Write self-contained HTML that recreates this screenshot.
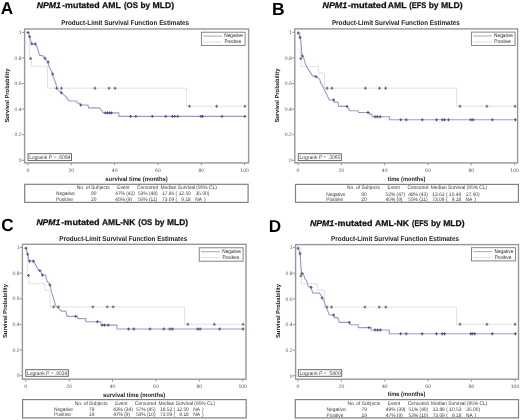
<!DOCTYPE html>
<html><head><meta charset="utf-8"><title>NPM1-mutated AML survival</title>
<style>
html,body{margin:0;padding:0;background:#fff;}
body{width:520px;height:420px;overflow:hidden;}
svg{display:block;font-family:"Liberation Sans", sans-serif;will-change:transform;text-rendering:geometricPrecision;}
</style></head>
<body>
<svg width="520" height="420" viewBox="0 0 520 420">
<rect width="520" height="420" fill="#fff"/>
<text x="0.7" y="14.0" font-size="17.2" font-weight="bold" text-anchor="start" fill="#000" textLength="12.4" lengthAdjust="spacingAndGlyphs">A</text>
<text x="36.70" y="7.9" font-size="8.3" font-weight="bold" fill="#111" font-style="italic" stroke="#111" stroke-width="0.25" textLength="24.30" lengthAdjust="spacingAndGlyphs">NPM1</text>
<text x="62.00" y="7.9" font-size="8.3" font-weight="bold" fill="#111" stroke="#111" stroke-width="0.25" textLength="2.90" lengthAdjust="spacingAndGlyphs">-</text>
<text x="65.10" y="7.9" font-size="8.3" font-weight="bold" fill="#111" stroke="#111" stroke-width="0.25" textLength="34.50" lengthAdjust="spacingAndGlyphs">mutated</text>
<text x="101.90" y="7.9" font-size="8.3" font-weight="bold" fill="#111" stroke="#111" stroke-width="0.25" textLength="18.80" lengthAdjust="spacingAndGlyphs">AML</text>
<text x="124.00" y="7.9" font-size="8.3" font-weight="bold" fill="#111" stroke="#111" stroke-width="0.25" textLength="14.00" lengthAdjust="spacingAndGlyphs">(OS</text>
<text x="140.50" y="7.9" font-size="8.3" font-weight="bold" fill="#111" stroke="#111" stroke-width="0.25" textLength="9.70" lengthAdjust="spacingAndGlyphs">by</text>
<text x="152.60" y="7.9" font-size="8.3" font-weight="bold" fill="#111" stroke="#111" stroke-width="0.25" textLength="21.60" lengthAdjust="spacingAndGlyphs">MLD)</text>
<text x="61.2" y="25.2" font-size="6.9" font-weight="bold" text-anchor="start" fill="#222" textLength="127.9" lengthAdjust="spacingAndGlyphs">Product-Limit Survival Function Estimates</text>
<text x="0" y="0" font-size="5.8" font-weight="bold" fill="#1a1a1a" text-anchor="middle" textLength="54" lengthAdjust="spacingAndGlyphs" transform="translate(8.6,95.6) rotate(-90)">Survival Probability</text>
<line x1="22.0" y1="160.3" x2="24.6" y2="160.3" stroke="#777" stroke-width="0.8"/>
<text x="21.700000000000003" y="162.0" font-size="5.1" font-weight="normal" text-anchor="end" fill="#5a5a5a">0</text>
<line x1="22.0" y1="134.70000000000002" x2="24.6" y2="134.70000000000002" stroke="#777" stroke-width="0.8"/>
<text x="21.700000000000003" y="136.4" font-size="5.1" font-weight="normal" text-anchor="end" fill="#5a5a5a">0.2</text>
<line x1="22.0" y1="109.10000000000001" x2="24.6" y2="109.10000000000001" stroke="#777" stroke-width="0.8"/>
<text x="21.700000000000003" y="110.80000000000001" font-size="5.1" font-weight="normal" text-anchor="end" fill="#5a5a5a">0.4</text>
<line x1="22.0" y1="83.5" x2="24.6" y2="83.5" stroke="#777" stroke-width="0.8"/>
<text x="21.700000000000003" y="85.2" font-size="5.1" font-weight="normal" text-anchor="end" fill="#5a5a5a">0.6</text>
<line x1="22.0" y1="57.900000000000006" x2="24.6" y2="57.900000000000006" stroke="#777" stroke-width="0.8"/>
<text x="21.700000000000003" y="59.60000000000001" font-size="5.1" font-weight="normal" text-anchor="end" fill="#5a5a5a">0.8</text>
<line x1="22.0" y1="32.30000000000001" x2="24.6" y2="32.30000000000001" stroke="#777" stroke-width="0.8"/>
<text x="21.700000000000003" y="34.000000000000014" font-size="5.1" font-weight="normal" text-anchor="end" fill="#5a5a5a">1</text>
<line x1="28.0" y1="162.9" x2="28.0" y2="165.3" stroke="#777" stroke-width="0.8"/>
<text x="28.0" y="171.8" font-size="5.1" font-weight="normal" text-anchor="middle" fill="#5a5a5a">0</text>
<line x1="71.32" y1="162.9" x2="71.32" y2="165.3" stroke="#777" stroke-width="0.8"/>
<text x="71.32" y="171.8" font-size="5.1" font-weight="normal" text-anchor="middle" fill="#5a5a5a">20</text>
<line x1="114.64" y1="162.9" x2="114.64" y2="165.3" stroke="#777" stroke-width="0.8"/>
<text x="114.64" y="171.8" font-size="5.1" font-weight="normal" text-anchor="middle" fill="#5a5a5a">40</text>
<line x1="157.96" y1="162.9" x2="157.96" y2="165.3" stroke="#777" stroke-width="0.8"/>
<text x="157.96" y="171.8" font-size="5.1" font-weight="normal" text-anchor="middle" fill="#5a5a5a">60</text>
<line x1="201.28" y1="162.9" x2="201.28" y2="165.3" stroke="#777" stroke-width="0.8"/>
<text x="201.28" y="171.8" font-size="5.1" font-weight="normal" text-anchor="middle" fill="#5a5a5a">80</text>
<line x1="244.6" y1="162.9" x2="244.6" y2="165.3" stroke="#777" stroke-width="0.8"/>
<text x="244.6" y="171.8" font-size="5.1" font-weight="normal" text-anchor="middle" fill="#5a5a5a">100</text>
<text x="105.3" y="181.0" font-size="6.2" font-weight="bold" text-anchor="start" fill="#222" textLength="62.5" lengthAdjust="spacingAndGlyphs">survival time (months)</text>
<polyline points="28.0,32.3 29.3,32.3 29.3,58.0 31.6,58.0 31.6,66.3 47.5,66.3 47.5,88.2 186.4,88.2 186.4,106.2 245.0,106.2 245.0,106.2" fill="none" stroke="#d9d9d6" stroke-width="0.8" stroke-linejoin="miter"/>
<polyline points="28.0,32.3 28.7,34.0 29.6,36.6 30.4,40.0 31.3,43.0 32.6,44.2 35.1,44.0 36.4,45.1 37.7,48.6 38.6,52.0 39.4,55.0 40.7,55.4 42.5,55.6 45.0,58.3 47.5,61.7 49.2,66.7 51.7,71.7 53.3,76.7 55.8,83.3 56.7,87.5 59.2,90.8 62.5,93.7 65.8,96.7 68.3,100.0 69.5,101.0 76.4,101.0 77.1,102.9 79.5,103.5 80.8,105.0 87.9,105.0 88.6,107.9 99.3,107.9 101.4,110.0 103.0,112.9 118.9,112.9 118.9,116.4 245.0,116.4" fill="none" stroke="#9a9ad0" stroke-width="1.1" stroke-linejoin="miter"/>
<line x1="30.6" y1="57.15" x2="30.6" y2="60.050000000000004" stroke="#666666" stroke-width="1.1"/>
<line x1="29.200000000000003" y1="58.6" x2="32.0" y2="58.6" stroke="#666666" stroke-width="1.0"/>
<line x1="56.6" y1="86.75" x2="56.6" y2="89.65" stroke="#666666" stroke-width="1.1"/>
<line x1="55.2" y1="88.2" x2="58.0" y2="88.2" stroke="#666666" stroke-width="1.0"/>
<line x1="61.4" y1="86.75" x2="61.4" y2="89.65" stroke="#666666" stroke-width="1.1"/>
<line x1="60.0" y1="88.2" x2="62.8" y2="88.2" stroke="#666666" stroke-width="1.0"/>
<line x1="95" y1="86.75" x2="95" y2="89.65" stroke="#666666" stroke-width="1.1"/>
<line x1="93.6" y1="88.2" x2="96.4" y2="88.2" stroke="#666666" stroke-width="1.0"/>
<line x1="109" y1="86.75" x2="109" y2="89.65" stroke="#666666" stroke-width="1.1"/>
<line x1="107.6" y1="88.2" x2="110.4" y2="88.2" stroke="#666666" stroke-width="1.0"/>
<line x1="115.1" y1="86.75" x2="115.1" y2="89.65" stroke="#666666" stroke-width="1.1"/>
<line x1="113.69999999999999" y1="88.2" x2="116.5" y2="88.2" stroke="#666666" stroke-width="1.0"/>
<line x1="189.5" y1="104.75" x2="189.5" y2="107.65" stroke="#666666" stroke-width="1.1"/>
<line x1="188.1" y1="106.2" x2="190.9" y2="106.2" stroke="#666666" stroke-width="1.0"/>
<line x1="216.6" y1="104.75" x2="216.6" y2="107.65" stroke="#666666" stroke-width="1.1"/>
<line x1="215.2" y1="106.2" x2="218.0" y2="106.2" stroke="#666666" stroke-width="1.0"/>
<line x1="244.9" y1="104.75" x2="244.9" y2="107.65" stroke="#666666" stroke-width="1.1"/>
<line x1="243.5" y1="106.2" x2="246.3" y2="106.2" stroke="#666666" stroke-width="1.0"/>
<line x1="105.4" y1="111.45" x2="105.4" y2="114.35000000000001" stroke="#505088" stroke-width="1.1"/>
<line x1="104.0" y1="112.9" x2="106.80000000000001" y2="112.9" stroke="#505088" stroke-width="1.0"/>
<line x1="107.4" y1="111.45" x2="107.4" y2="114.35000000000001" stroke="#505088" stroke-width="1.1"/>
<line x1="106.0" y1="112.9" x2="108.80000000000001" y2="112.9" stroke="#505088" stroke-width="1.0"/>
<line x1="109.5" y1="111.45" x2="109.5" y2="114.35000000000001" stroke="#505088" stroke-width="1.1"/>
<line x1="108.1" y1="112.9" x2="110.9" y2="112.9" stroke="#505088" stroke-width="1.0"/>
<line x1="111.5" y1="111.45" x2="111.5" y2="114.35000000000001" stroke="#505088" stroke-width="1.1"/>
<line x1="110.1" y1="112.9" x2="112.9" y2="112.9" stroke="#505088" stroke-width="1.0"/>
<line x1="130.5" y1="114.95" x2="130.5" y2="117.85000000000001" stroke="#505088" stroke-width="1.1"/>
<line x1="129.1" y1="116.4" x2="131.9" y2="116.4" stroke="#505088" stroke-width="1.0"/>
<line x1="135.8" y1="114.95" x2="135.8" y2="117.85000000000001" stroke="#505088" stroke-width="1.1"/>
<line x1="134.4" y1="116.4" x2="137.20000000000002" y2="116.4" stroke="#505088" stroke-width="1.0"/>
<line x1="152.3" y1="114.95" x2="152.3" y2="117.85000000000001" stroke="#505088" stroke-width="1.1"/>
<line x1="150.9" y1="116.4" x2="153.70000000000002" y2="116.4" stroke="#505088" stroke-width="1.0"/>
<line x1="165.8" y1="114.95" x2="165.8" y2="117.85000000000001" stroke="#505088" stroke-width="1.1"/>
<line x1="164.4" y1="116.4" x2="167.20000000000002" y2="116.4" stroke="#505088" stroke-width="1.0"/>
<line x1="172.3" y1="114.95" x2="172.3" y2="117.85000000000001" stroke="#505088" stroke-width="1.1"/>
<line x1="170.9" y1="116.4" x2="173.70000000000002" y2="116.4" stroke="#505088" stroke-width="1.0"/>
<line x1="174.6" y1="114.95" x2="174.6" y2="117.85000000000001" stroke="#505088" stroke-width="1.1"/>
<line x1="173.2" y1="116.4" x2="176.0" y2="116.4" stroke="#505088" stroke-width="1.0"/>
<line x1="177.7" y1="114.95" x2="177.7" y2="117.85000000000001" stroke="#505088" stroke-width="1.1"/>
<line x1="176.29999999999998" y1="116.4" x2="179.1" y2="116.4" stroke="#505088" stroke-width="1.0"/>
<line x1="200.8" y1="114.95" x2="200.8" y2="117.85000000000001" stroke="#505088" stroke-width="1.1"/>
<line x1="199.4" y1="116.4" x2="202.20000000000002" y2="116.4" stroke="#505088" stroke-width="1.0"/>
<line x1="202.5" y1="114.95" x2="202.5" y2="117.85000000000001" stroke="#505088" stroke-width="1.1"/>
<line x1="201.1" y1="116.4" x2="203.9" y2="116.4" stroke="#505088" stroke-width="1.0"/>
<line x1="222" y1="114.95" x2="222" y2="117.85000000000001" stroke="#505088" stroke-width="1.1"/>
<line x1="220.6" y1="116.4" x2="223.4" y2="116.4" stroke="#505088" stroke-width="1.0"/>
<line x1="244.9" y1="114.95" x2="244.9" y2="117.85000000000001" stroke="#505088" stroke-width="1.1"/>
<line x1="243.5" y1="116.4" x2="246.3" y2="116.4" stroke="#505088" stroke-width="1.0"/>
<line x1="28.0" y1="31.05" x2="28.0" y2="33.95" stroke="#505088" stroke-width="1.1"/>
<line x1="26.6" y1="32.5" x2="29.4" y2="32.5" stroke="#505088" stroke-width="1.0"/>
<line x1="29.6" y1="35.15" x2="29.6" y2="38.050000000000004" stroke="#505088" stroke-width="1.1"/>
<line x1="28.200000000000003" y1="36.6" x2="31.0" y2="36.6" stroke="#505088" stroke-width="1.0"/>
<line x1="31.8" y1="42.349999999999994" x2="31.8" y2="45.25" stroke="#505088" stroke-width="1.1"/>
<line x1="30.400000000000002" y1="43.8" x2="33.2" y2="43.8" stroke="#505088" stroke-width="1.0"/>
<line x1="35.3" y1="42.55" x2="35.3" y2="45.45" stroke="#505088" stroke-width="1.1"/>
<line x1="33.9" y1="44.0" x2="36.699999999999996" y2="44.0" stroke="#505088" stroke-width="1.0"/>
<line x1="45.0" y1="56.849999999999994" x2="45.0" y2="59.75" stroke="#505088" stroke-width="1.1"/>
<line x1="43.6" y1="58.3" x2="46.4" y2="58.3" stroke="#505088" stroke-width="1.0"/>
<line x1="48.2" y1="60.55" x2="48.2" y2="63.45" stroke="#505088" stroke-width="1.1"/>
<line x1="46.800000000000004" y1="62.0" x2="49.6" y2="62.0" stroke="#505088" stroke-width="1.0"/>
<line x1="52.6" y1="72.55" x2="52.6" y2="75.45" stroke="#505088" stroke-width="1.1"/>
<line x1="51.2" y1="74.0" x2="54.0" y2="74.0" stroke="#505088" stroke-width="1.0"/>
<line x1="80.7" y1="103.55" x2="80.7" y2="106.45" stroke="#505088" stroke-width="1.1"/>
<line x1="79.3" y1="105" x2="82.10000000000001" y2="105" stroke="#505088" stroke-width="1.0"/>
<line x1="61.4" y1="91.35" x2="61.4" y2="94.25" stroke="#505088" stroke-width="1.1"/>
<line x1="60.0" y1="92.8" x2="62.8" y2="92.8" stroke="#505088" stroke-width="1.0"/>
<rect x="24.6" y="29.0" width="224.00" height="133.90" fill="none" stroke="#979797" stroke-width="1.4"/>
<rect x="201.4" y="32.2" width="43.70" height="13.20" fill="#fff" stroke="#777" stroke-width="0.9"/>
<line x1="203.3" y1="36.1" x2="222.0" y2="36.1" stroke="#9a9ad0" stroke-width="0.9"/>
<line x1="203.3" y1="42.1" x2="222.0" y2="42.1" stroke="#d9d9d6" stroke-width="0.9"/>
<text x="243.0" y="37.400000000000006" font-size="5.3" font-weight="normal" text-anchor="end" fill="#2a2a2a" textLength="18.8" lengthAdjust="spacingAndGlyphs">Negative</text>
<text x="241.1" y="43.400000000000006" font-size="5.3" font-weight="normal" text-anchor="end" fill="#2a2a2a" textLength="16.7" lengthAdjust="spacingAndGlyphs">Positive</text>
<rect x="28.0" y="153.7" width="43.50" height="6.90" fill="#fff" stroke="#5a5a5a" stroke-width="0.9"/>
<text x="29.2" y="159.0" font-size="5.3" font-weight="normal" text-anchor="start" fill="#444" textLength="41.3" lengthAdjust="spacingAndGlyphs">Logrank <tspan font-style="italic">P</tspan> = .6084</text>
<rect x="24.7" y="184.3" width="223.40" height="18.10" fill="none" stroke="#808080" stroke-width="1.2"/>
<text x="76.80" y="189.10" font-size="5.2" text-anchor="start" fill="#3a3a3a" textLength="32.89" lengthAdjust="spacingAndGlyphs">No. of Subjects</text>
<text x="117.20" y="189.10" font-size="5.2" text-anchor="start" fill="#3a3a3a" textLength="12.40" lengthAdjust="spacingAndGlyphs">Event</text>
<text x="137.10" y="189.10" font-size="5.2" text-anchor="start" fill="#3a3a3a" textLength="21.03" lengthAdjust="spacingAndGlyphs">Censored</text>
<text x="160.50" y="189.10" font-size="5.2" text-anchor="start" fill="#3a3a3a" textLength="56.33" lengthAdjust="spacingAndGlyphs">Median Survival (95% CL)</text>
<text x="55.90" y="195.30" font-size="5.2" text-anchor="start" fill="#3a3a3a" textLength="19.14" lengthAdjust="spacingAndGlyphs">Negative</text>
<text x="93.70" y="195.30" font-size="5.2" text-anchor="middle" fill="#3a3a3a" textLength="5.39" lengthAdjust="spacingAndGlyphs">90</text>
<text x="115.20" y="195.30" font-size="5.2" text-anchor="start" fill="#3a3a3a" textLength="19.68" lengthAdjust="spacingAndGlyphs">47% (42)</text>
<text x="137.90" y="195.30" font-size="5.2" text-anchor="start" fill="#3a3a3a" textLength="19.68" lengthAdjust="spacingAndGlyphs">53% (48)</text>
<text x="174.20" y="195.30" font-size="5.2" text-anchor="end" fill="#3a3a3a" textLength="12.14" lengthAdjust="spacingAndGlyphs">17.86</text>
<text x="175.60" y="195.30" font-size="5.2" text-anchor="start" fill="#3a3a3a" textLength="1.61" lengthAdjust="spacingAndGlyphs">(</text>
<text x="190.80" y="195.30" font-size="5.2" text-anchor="end" fill="#3a3a3a" textLength="12.14" lengthAdjust="spacingAndGlyphs">12.50</text>
<text x="209.40" y="195.30" font-size="5.2" text-anchor="end" fill="#3a3a3a" textLength="13.75" lengthAdjust="spacingAndGlyphs">35.00)</text>
<text x="55.90" y="200.90" font-size="5.2" text-anchor="start" fill="#3a3a3a" textLength="16.98" lengthAdjust="spacingAndGlyphs">Positive</text>
<text x="93.70" y="200.90" font-size="5.2" text-anchor="middle" fill="#3a3a3a" textLength="5.39" lengthAdjust="spacingAndGlyphs">20</text>
<text x="115.20" y="200.90" font-size="5.2" text-anchor="start" fill="#3a3a3a" textLength="16.98" lengthAdjust="spacingAndGlyphs">45% (9)</text>
<text x="137.90" y="200.90" font-size="5.2" text-anchor="start" fill="#3a3a3a" textLength="19.32" lengthAdjust="spacingAndGlyphs">55% (11)</text>
<text x="174.20" y="200.90" font-size="5.2" text-anchor="end" fill="#3a3a3a" textLength="12.14" lengthAdjust="spacingAndGlyphs">73.09</text>
<text x="175.60" y="200.90" font-size="5.2" text-anchor="start" fill="#3a3a3a" textLength="1.61" lengthAdjust="spacingAndGlyphs">(</text>
<text x="190.80" y="200.90" font-size="5.2" text-anchor="end" fill="#3a3a3a" textLength="9.44" lengthAdjust="spacingAndGlyphs">9.18</text>
<text x="195.30" y="200.90" font-size="5.2" text-anchor="start" fill="#3a3a3a" textLength="6.74" lengthAdjust="spacingAndGlyphs">NA</text>
<text x="204.00" y="200.90" font-size="5.2" text-anchor="start" fill="#3a3a3a" textLength="1.61" lengthAdjust="spacingAndGlyphs">)</text>
<text x="271.9" y="14.6" font-size="17.6" font-weight="bold" text-anchor="start" fill="#000" textLength="12.6" lengthAdjust="spacingAndGlyphs">B</text>
<text x="322.50" y="8.0" font-size="8.3" font-weight="bold" fill="#111" font-style="italic" stroke="#111" stroke-width="0.25" textLength="24.60" lengthAdjust="spacingAndGlyphs">NPM1</text>
<text x="347.90" y="8.0" font-size="8.3" font-weight="bold" fill="#111" stroke="#111" stroke-width="0.25" textLength="2.80" lengthAdjust="spacingAndGlyphs">-</text>
<text x="350.70" y="8.0" font-size="8.3" font-weight="bold" fill="#111" stroke="#111" stroke-width="0.25" textLength="36.00" lengthAdjust="spacingAndGlyphs">mutated</text>
<text x="387.80" y="8.0" font-size="8.3" font-weight="bold" fill="#111" stroke="#111" stroke-width="0.25" textLength="18.70" lengthAdjust="spacingAndGlyphs">AML</text>
<text x="409.30" y="8.0" font-size="8.3" font-weight="bold" fill="#111" stroke="#111" stroke-width="0.25" textLength="17.00" lengthAdjust="spacingAndGlyphs">(EFS</text>
<text x="428.70" y="8.0" font-size="8.3" font-weight="bold" fill="#111" stroke="#111" stroke-width="0.25" textLength="9.90" lengthAdjust="spacingAndGlyphs">by</text>
<text x="441.00" y="8.0" font-size="8.3" font-weight="bold" fill="#111" stroke="#111" stroke-width="0.25" textLength="21.60" lengthAdjust="spacingAndGlyphs">MLD)</text>
<text x="331.9" y="25.2" font-size="6.9" font-weight="bold" text-anchor="start" fill="#222" textLength="127.9" lengthAdjust="spacingAndGlyphs">Product-Limit Survival Function Estimates</text>
<text x="0" y="0" font-size="5.8" font-weight="bold" fill="#1a1a1a" text-anchor="middle" textLength="54" lengthAdjust="spacingAndGlyphs" transform="translate(279.3,95.6) rotate(-90)">Survival Probability</text>
<line x1="292.2" y1="160.3" x2="294.8" y2="160.3" stroke="#777" stroke-width="0.8"/>
<text x="291.90000000000003" y="162.0" font-size="5.1" font-weight="normal" text-anchor="end" fill="#5a5a5a">0</text>
<line x1="292.2" y1="134.70000000000002" x2="294.8" y2="134.70000000000002" stroke="#777" stroke-width="0.8"/>
<text x="291.90000000000003" y="136.4" font-size="5.1" font-weight="normal" text-anchor="end" fill="#5a5a5a">0.2</text>
<line x1="292.2" y1="109.10000000000001" x2="294.8" y2="109.10000000000001" stroke="#777" stroke-width="0.8"/>
<text x="291.90000000000003" y="110.80000000000001" font-size="5.1" font-weight="normal" text-anchor="end" fill="#5a5a5a">0.4</text>
<line x1="292.2" y1="83.5" x2="294.8" y2="83.5" stroke="#777" stroke-width="0.8"/>
<text x="291.90000000000003" y="85.2" font-size="5.1" font-weight="normal" text-anchor="end" fill="#5a5a5a">0.6</text>
<line x1="292.2" y1="57.900000000000006" x2="294.8" y2="57.900000000000006" stroke="#777" stroke-width="0.8"/>
<text x="291.90000000000003" y="59.60000000000001" font-size="5.1" font-weight="normal" text-anchor="end" fill="#5a5a5a">0.8</text>
<line x1="292.2" y1="32.30000000000001" x2="294.8" y2="32.30000000000001" stroke="#777" stroke-width="0.8"/>
<text x="291.90000000000003" y="34.000000000000014" font-size="5.1" font-weight="normal" text-anchor="end" fill="#5a5a5a">1</text>
<line x1="298.0" y1="162.9" x2="298.0" y2="165.3" stroke="#777" stroke-width="0.8"/>
<text x="298.0" y="171.8" font-size="5.1" font-weight="normal" text-anchor="middle" fill="#5a5a5a">0</text>
<line x1="341.32" y1="162.9" x2="341.32" y2="165.3" stroke="#777" stroke-width="0.8"/>
<text x="341.32" y="171.8" font-size="5.1" font-weight="normal" text-anchor="middle" fill="#5a5a5a">20</text>
<line x1="384.64" y1="162.9" x2="384.64" y2="165.3" stroke="#777" stroke-width="0.8"/>
<text x="384.64" y="171.8" font-size="5.1" font-weight="normal" text-anchor="middle" fill="#5a5a5a">40</text>
<line x1="427.96000000000004" y1="162.9" x2="427.96000000000004" y2="165.3" stroke="#777" stroke-width="0.8"/>
<text x="427.96000000000004" y="171.8" font-size="5.1" font-weight="normal" text-anchor="middle" fill="#5a5a5a">60</text>
<line x1="471.28" y1="162.9" x2="471.28" y2="165.3" stroke="#777" stroke-width="0.8"/>
<text x="471.28" y="171.8" font-size="5.1" font-weight="normal" text-anchor="middle" fill="#5a5a5a">80</text>
<line x1="514.6" y1="162.9" x2="514.6" y2="165.3" stroke="#777" stroke-width="0.8"/>
<text x="514.6" y="171.8" font-size="5.1" font-weight="normal" text-anchor="middle" fill="#5a5a5a">100</text>
<text x="387.7" y="180.6" font-size="6.2" font-weight="bold" text-anchor="start" fill="#222" textLength="37.7" lengthAdjust="spacingAndGlyphs">time (months)</text>
<polyline points="298.0,32.3 300.4,32.3 300.4,58.0 301.2,58.0 301.2,66.6 318.5,66.6 318.5,73.0 324.5,73.0 324.5,88.2 456.6,88.2 456.6,106.2 515.0,106.2 515.0,106.2" fill="none" stroke="#d9d9d6" stroke-width="0.8" stroke-linejoin="miter"/>
<polyline points="298.0,32.3 299.0,34.0 300.4,37.3 301.2,45.0 301.9,55.9 303.3,56.6 305.4,63.7 308.3,69.4 312.6,75.9 316.1,76.6 319.7,79.4 320.7,82.9 322.9,86.4 329.3,100.0 333.6,100.0 334.3,102.1 337.9,102.1 338.6,106.4 347.1,106.4 348.6,108.6 350.0,110.7 357.9,110.7 358.6,112.5 369.6,112.5 369.6,114.2 372.0,114.2 372.0,116.8 389.3,116.8 389.3,119.8 515.0,119.8" fill="none" stroke="#9a9ad0" stroke-width="1.1" stroke-linejoin="miter"/>
<line x1="300.8" y1="57.15" x2="300.8" y2="60.050000000000004" stroke="#666666" stroke-width="1.1"/>
<line x1="299.40000000000003" y1="58.6" x2="302.2" y2="58.6" stroke="#666666" stroke-width="1.0"/>
<line x1="327.1" y1="86.75" x2="327.1" y2="89.65" stroke="#666666" stroke-width="1.1"/>
<line x1="325.70000000000005" y1="88.2" x2="328.5" y2="88.2" stroke="#666666" stroke-width="1.0"/>
<line x1="331.9" y1="86.75" x2="331.9" y2="89.65" stroke="#666666" stroke-width="1.1"/>
<line x1="330.5" y1="88.2" x2="333.29999999999995" y2="88.2" stroke="#666666" stroke-width="1.0"/>
<line x1="365.4" y1="86.75" x2="365.4" y2="89.65" stroke="#666666" stroke-width="1.1"/>
<line x1="364.0" y1="88.2" x2="366.79999999999995" y2="88.2" stroke="#666666" stroke-width="1.0"/>
<line x1="379.5" y1="86.75" x2="379.5" y2="89.65" stroke="#666666" stroke-width="1.1"/>
<line x1="378.1" y1="88.2" x2="380.9" y2="88.2" stroke="#666666" stroke-width="1.0"/>
<line x1="385.6" y1="86.75" x2="385.6" y2="89.65" stroke="#666666" stroke-width="1.1"/>
<line x1="384.20000000000005" y1="88.2" x2="387.0" y2="88.2" stroke="#666666" stroke-width="1.0"/>
<line x1="460" y1="104.75" x2="460" y2="107.65" stroke="#666666" stroke-width="1.1"/>
<line x1="458.6" y1="106.2" x2="461.4" y2="106.2" stroke="#666666" stroke-width="1.0"/>
<line x1="486.9" y1="104.75" x2="486.9" y2="107.65" stroke="#666666" stroke-width="1.1"/>
<line x1="485.5" y1="106.2" x2="488.29999999999995" y2="106.2" stroke="#666666" stroke-width="1.0"/>
<line x1="515.1" y1="104.75" x2="515.1" y2="107.65" stroke="#666666" stroke-width="1.1"/>
<line x1="513.7" y1="106.2" x2="516.5" y2="106.2" stroke="#666666" stroke-width="1.0"/>
<line x1="375" y1="115.35" x2="375" y2="118.25" stroke="#505088" stroke-width="1.1"/>
<line x1="373.6" y1="116.8" x2="376.4" y2="116.8" stroke="#505088" stroke-width="1.0"/>
<line x1="377.3" y1="115.35" x2="377.3" y2="118.25" stroke="#505088" stroke-width="1.1"/>
<line x1="375.90000000000003" y1="116.8" x2="378.7" y2="116.8" stroke="#505088" stroke-width="1.0"/>
<line x1="380.1" y1="115.35" x2="380.1" y2="118.25" stroke="#505088" stroke-width="1.1"/>
<line x1="378.70000000000005" y1="116.8" x2="381.5" y2="116.8" stroke="#505088" stroke-width="1.0"/>
<line x1="400.7" y1="118.35" x2="400.7" y2="121.25" stroke="#505088" stroke-width="1.1"/>
<line x1="399.3" y1="119.8" x2="402.09999999999997" y2="119.8" stroke="#505088" stroke-width="1.0"/>
<line x1="406.2" y1="118.35" x2="406.2" y2="121.25" stroke="#505088" stroke-width="1.1"/>
<line x1="404.8" y1="119.8" x2="407.59999999999997" y2="119.8" stroke="#505088" stroke-width="1.0"/>
<line x1="422.2" y1="118.35" x2="422.2" y2="121.25" stroke="#505088" stroke-width="1.1"/>
<line x1="420.8" y1="119.8" x2="423.59999999999997" y2="119.8" stroke="#505088" stroke-width="1.0"/>
<line x1="436.5" y1="118.35" x2="436.5" y2="121.25" stroke="#505088" stroke-width="1.1"/>
<line x1="435.1" y1="119.8" x2="437.9" y2="119.8" stroke="#505088" stroke-width="1.0"/>
<line x1="442.3" y1="118.35" x2="442.3" y2="121.25" stroke="#505088" stroke-width="1.1"/>
<line x1="440.90000000000003" y1="119.8" x2="443.7" y2="119.8" stroke="#505088" stroke-width="1.0"/>
<line x1="444.6" y1="118.35" x2="444.6" y2="121.25" stroke="#505088" stroke-width="1.1"/>
<line x1="443.20000000000005" y1="119.8" x2="446.0" y2="119.8" stroke="#505088" stroke-width="1.0"/>
<line x1="448.5" y1="118.35" x2="448.5" y2="121.25" stroke="#505088" stroke-width="1.1"/>
<line x1="447.1" y1="119.8" x2="449.9" y2="119.8" stroke="#505088" stroke-width="1.0"/>
<line x1="470.8" y1="118.35" x2="470.8" y2="121.25" stroke="#505088" stroke-width="1.1"/>
<line x1="469.40000000000003" y1="119.8" x2="472.2" y2="119.8" stroke="#505088" stroke-width="1.0"/>
<line x1="473.1" y1="118.35" x2="473.1" y2="121.25" stroke="#505088" stroke-width="1.1"/>
<line x1="471.70000000000005" y1="119.8" x2="474.5" y2="119.8" stroke="#505088" stroke-width="1.0"/>
<line x1="492.3" y1="118.35" x2="492.3" y2="121.25" stroke="#505088" stroke-width="1.1"/>
<line x1="490.90000000000003" y1="119.8" x2="493.7" y2="119.8" stroke="#505088" stroke-width="1.0"/>
<line x1="515.4" y1="118.35" x2="515.4" y2="121.25" stroke="#505088" stroke-width="1.1"/>
<line x1="514.0" y1="119.8" x2="516.8" y2="119.8" stroke="#505088" stroke-width="1.0"/>
<line x1="298.2" y1="31.55" x2="298.2" y2="34.45" stroke="#505088" stroke-width="1.1"/>
<line x1="296.8" y1="33.0" x2="299.59999999999997" y2="33.0" stroke="#505088" stroke-width="1.0"/>
<line x1="300.0" y1="36.05" x2="300.0" y2="38.95" stroke="#505088" stroke-width="1.1"/>
<line x1="298.6" y1="37.5" x2="301.4" y2="37.5" stroke="#505088" stroke-width="1.0"/>
<line x1="302.3" y1="54.55" x2="302.3" y2="57.45" stroke="#505088" stroke-width="1.1"/>
<line x1="300.90000000000003" y1="56.0" x2="303.7" y2="56.0" stroke="#505088" stroke-width="1.0"/>
<line x1="316" y1="75.14999999999999" x2="316" y2="78.05" stroke="#505088" stroke-width="1.1"/>
<line x1="314.6" y1="76.6" x2="317.4" y2="76.6" stroke="#505088" stroke-width="1.0"/>
<line x1="333.6" y1="98.55" x2="333.6" y2="101.45" stroke="#505088" stroke-width="1.1"/>
<line x1="332.20000000000005" y1="100" x2="335.0" y2="100" stroke="#505088" stroke-width="1.0"/>
<line x1="347" y1="104.95" x2="347" y2="107.85000000000001" stroke="#505088" stroke-width="1.1"/>
<line x1="345.6" y1="106.4" x2="348.4" y2="106.4" stroke="#505088" stroke-width="1.0"/>
<line x1="368" y1="111.05" x2="368" y2="113.95" stroke="#505088" stroke-width="1.1"/>
<line x1="366.6" y1="112.5" x2="369.4" y2="112.5" stroke="#505088" stroke-width="1.0"/>
<rect x="294.8" y="28.9" width="222.80" height="134.00" fill="none" stroke="#979797" stroke-width="1.4"/>
<rect x="471.4" y="32.1" width="43.60" height="13.30" fill="#fff" stroke="#777" stroke-width="0.9"/>
<line x1="473.29999999999995" y1="36.0" x2="492.0" y2="36.0" stroke="#9a9ad0" stroke-width="0.9"/>
<line x1="473.29999999999995" y1="42.0" x2="492.0" y2="42.0" stroke="#d9d9d6" stroke-width="0.9"/>
<text x="512.9" y="37.300000000000004" font-size="5.3" font-weight="normal" text-anchor="end" fill="#2a2a2a" textLength="18.8" lengthAdjust="spacingAndGlyphs">Negative</text>
<text x="511.0" y="43.3" font-size="5.3" font-weight="normal" text-anchor="end" fill="#2a2a2a" textLength="16.7" lengthAdjust="spacingAndGlyphs">Positive</text>
<rect x="298.3" y="153.7" width="43.00" height="6.90" fill="#fff" stroke="#5a5a5a" stroke-width="0.9"/>
<text x="299.5" y="159.0" font-size="5.3" font-weight="normal" text-anchor="start" fill="#444" textLength="40.8" lengthAdjust="spacingAndGlyphs">Logrank <tspan font-style="italic">P</tspan> = .3065</text>
<rect x="295.5" y="184.4" width="222.90" height="17.90" fill="none" stroke="#808080" stroke-width="1.2"/>
<text x="347.10" y="189.40" font-size="5.2" text-anchor="start" fill="#3a3a3a" textLength="32.89" lengthAdjust="spacingAndGlyphs">No. of Subjects</text>
<text x="387.50" y="189.40" font-size="5.2" text-anchor="start" fill="#3a3a3a" textLength="12.40" lengthAdjust="spacingAndGlyphs">Event</text>
<text x="407.40" y="189.40" font-size="5.2" text-anchor="start" fill="#3a3a3a" textLength="21.03" lengthAdjust="spacingAndGlyphs">Censored</text>
<text x="430.80" y="189.40" font-size="5.2" text-anchor="start" fill="#3a3a3a" textLength="56.33" lengthAdjust="spacingAndGlyphs">Median Survival (95% CL)</text>
<text x="326.20" y="195.60" font-size="5.2" text-anchor="start" fill="#3a3a3a" textLength="19.14" lengthAdjust="spacingAndGlyphs">Negative</text>
<text x="364.00" y="195.60" font-size="5.2" text-anchor="middle" fill="#3a3a3a" textLength="5.39" lengthAdjust="spacingAndGlyphs">90</text>
<text x="385.50" y="195.60" font-size="5.2" text-anchor="start" fill="#3a3a3a" textLength="19.68" lengthAdjust="spacingAndGlyphs">52% (47)</text>
<text x="408.20" y="195.60" font-size="5.2" text-anchor="start" fill="#3a3a3a" textLength="19.68" lengthAdjust="spacingAndGlyphs">48% (43)</text>
<text x="444.50" y="195.60" font-size="5.2" text-anchor="end" fill="#3a3a3a" textLength="12.14" lengthAdjust="spacingAndGlyphs">13.62</text>
<text x="445.90" y="195.60" font-size="5.2" text-anchor="start" fill="#3a3a3a" textLength="1.61" lengthAdjust="spacingAndGlyphs">(</text>
<text x="461.10" y="195.60" font-size="5.2" text-anchor="end" fill="#3a3a3a" textLength="12.14" lengthAdjust="spacingAndGlyphs">10.49</text>
<text x="479.70" y="195.60" font-size="5.2" text-anchor="end" fill="#3a3a3a" textLength="13.75" lengthAdjust="spacingAndGlyphs">27.60)</text>
<text x="326.20" y="201.20" font-size="5.2" text-anchor="start" fill="#3a3a3a" textLength="16.98" lengthAdjust="spacingAndGlyphs">Positive</text>
<text x="364.00" y="201.20" font-size="5.2" text-anchor="middle" fill="#3a3a3a" textLength="5.39" lengthAdjust="spacingAndGlyphs">20</text>
<text x="385.50" y="201.20" font-size="5.2" text-anchor="start" fill="#3a3a3a" textLength="16.98" lengthAdjust="spacingAndGlyphs">45% (9)</text>
<text x="408.20" y="201.20" font-size="5.2" text-anchor="start" fill="#3a3a3a" textLength="19.32" lengthAdjust="spacingAndGlyphs">55% (11)</text>
<text x="444.50" y="201.20" font-size="5.2" text-anchor="end" fill="#3a3a3a" textLength="12.14" lengthAdjust="spacingAndGlyphs">73.09</text>
<text x="445.90" y="201.20" font-size="5.2" text-anchor="start" fill="#3a3a3a" textLength="1.61" lengthAdjust="spacingAndGlyphs">(</text>
<text x="461.10" y="201.20" font-size="5.2" text-anchor="end" fill="#3a3a3a" textLength="9.44" lengthAdjust="spacingAndGlyphs">9.18</text>
<text x="465.60" y="201.20" font-size="5.2" text-anchor="start" fill="#3a3a3a" textLength="6.74" lengthAdjust="spacingAndGlyphs">NA</text>
<text x="474.30" y="201.20" font-size="5.2" text-anchor="start" fill="#3a3a3a" textLength="1.61" lengthAdjust="spacingAndGlyphs">)</text>
<text x="1.2" y="231.0" font-size="17.6" font-weight="bold" text-anchor="start" fill="#000" textLength="12.4" lengthAdjust="spacingAndGlyphs">C</text>
<text x="36.40" y="225.0" font-size="8.3" font-weight="bold" fill="#111" font-style="italic" stroke="#111" stroke-width="0.25" textLength="23.90" lengthAdjust="spacingAndGlyphs">NPM1</text>
<text x="61.30" y="225.0" font-size="8.3" font-weight="bold" fill="#111" stroke="#111" stroke-width="0.25" textLength="2.80" lengthAdjust="spacingAndGlyphs">-</text>
<text x="64.30" y="225.0" font-size="8.3" font-weight="bold" fill="#111" stroke="#111" stroke-width="0.25" textLength="35.40" lengthAdjust="spacingAndGlyphs">mutated</text>
<text x="102.00" y="225.0" font-size="8.3" font-weight="bold" fill="#111" stroke="#111" stroke-width="0.25" textLength="33.30" lengthAdjust="spacingAndGlyphs">AML-NK</text>
<text x="138.30" y="225.0" font-size="8.3" font-weight="bold" fill="#111" stroke="#111" stroke-width="0.25" textLength="14.00" lengthAdjust="spacingAndGlyphs">(OS</text>
<text x="154.70" y="225.0" font-size="8.3" font-weight="bold" fill="#111" stroke="#111" stroke-width="0.25" textLength="9.90" lengthAdjust="spacingAndGlyphs">by</text>
<text x="167.00" y="225.0" font-size="8.3" font-weight="bold" fill="#111" stroke="#111" stroke-width="0.25" textLength="21.00" lengthAdjust="spacingAndGlyphs">MLD)</text>
<text x="59.3" y="240.6" font-size="6.9" font-weight="bold" text-anchor="start" fill="#222" textLength="127.9" lengthAdjust="spacingAndGlyphs">Product-Limit Survival Function Estimates</text>
<text x="0" y="0" font-size="5.8" font-weight="bold" fill="#1a1a1a" text-anchor="middle" textLength="54" lengthAdjust="spacingAndGlyphs" transform="translate(7.0,311.0) rotate(-90)">Survival Probability</text>
<line x1="19.799999999999997" y1="375.7" x2="22.4" y2="375.7" stroke="#777" stroke-width="0.8"/>
<text x="19.5" y="377.4" font-size="5.1" font-weight="normal" text-anchor="end" fill="#5a5a5a">0</text>
<line x1="19.799999999999997" y1="350.06" x2="22.4" y2="350.06" stroke="#777" stroke-width="0.8"/>
<text x="19.5" y="351.76" font-size="5.1" font-weight="normal" text-anchor="end" fill="#5a5a5a">0.2</text>
<line x1="19.799999999999997" y1="324.41999999999996" x2="22.4" y2="324.41999999999996" stroke="#777" stroke-width="0.8"/>
<text x="19.5" y="326.11999999999995" font-size="5.1" font-weight="normal" text-anchor="end" fill="#5a5a5a">0.4</text>
<line x1="19.799999999999997" y1="298.78" x2="22.4" y2="298.78" stroke="#777" stroke-width="0.8"/>
<text x="19.5" y="300.47999999999996" font-size="5.1" font-weight="normal" text-anchor="end" fill="#5a5a5a">0.6</text>
<line x1="19.799999999999997" y1="273.14" x2="22.4" y2="273.14" stroke="#777" stroke-width="0.8"/>
<text x="19.5" y="274.84" font-size="5.1" font-weight="normal" text-anchor="end" fill="#5a5a5a">0.8</text>
<line x1="19.799999999999997" y1="247.5" x2="22.4" y2="247.5" stroke="#777" stroke-width="0.8"/>
<text x="19.5" y="249.2" font-size="5.1" font-weight="normal" text-anchor="end" fill="#5a5a5a">1</text>
<line x1="25.7" y1="379.2" x2="25.7" y2="381.59999999999997" stroke="#777" stroke-width="0.8"/>
<text x="25.7" y="388.09999999999997" font-size="5.1" font-weight="normal" text-anchor="middle" fill="#5a5a5a">0</text>
<line x1="69.1" y1="379.2" x2="69.1" y2="381.59999999999997" stroke="#777" stroke-width="0.8"/>
<text x="69.1" y="388.09999999999997" font-size="5.1" font-weight="normal" text-anchor="middle" fill="#5a5a5a">20</text>
<line x1="112.5" y1="379.2" x2="112.5" y2="381.59999999999997" stroke="#777" stroke-width="0.8"/>
<text x="112.5" y="388.09999999999997" font-size="5.1" font-weight="normal" text-anchor="middle" fill="#5a5a5a">40</text>
<line x1="155.89999999999998" y1="379.2" x2="155.89999999999998" y2="381.59999999999997" stroke="#777" stroke-width="0.8"/>
<text x="155.89999999999998" y="388.09999999999997" font-size="5.1" font-weight="normal" text-anchor="middle" fill="#5a5a5a">60</text>
<line x1="199.29999999999998" y1="379.2" x2="199.29999999999998" y2="381.59999999999997" stroke="#777" stroke-width="0.8"/>
<text x="199.29999999999998" y="388.09999999999997" font-size="5.1" font-weight="normal" text-anchor="middle" fill="#5a5a5a">80</text>
<line x1="242.7" y1="379.2" x2="242.7" y2="381.59999999999997" stroke="#777" stroke-width="0.8"/>
<text x="242.7" y="388.09999999999997" font-size="5.1" font-weight="normal" text-anchor="middle" fill="#5a5a5a">100</text>
<text x="103.0" y="396.6" font-size="6.2" font-weight="bold" text-anchor="start" fill="#222" textLength="62.3" lengthAdjust="spacingAndGlyphs">survival time (months)</text>
<polyline points="25.7,247.5 27.7,247.5 27.7,274.5 29.1,274.5 29.1,283.7 44.9,283.7 44.9,290.3 50.0,290.3 50.0,306.9 184.6,306.9 184.6,324.3 243.5,324.3 243.5,324.3" fill="none" stroke="#d9d9d6" stroke-width="0.8" stroke-linejoin="miter"/>
<polyline points="25.7,247.5 27.7,254.4 29.1,260.9 33.4,260.9 36.3,265.9 38.4,270.1 40.6,270.9 42.0,275.1 45.6,275.1 47.0,280.9 50.0,285.0 51.4,291.4 55.7,305.7 57.9,307.9 60.0,309.3 61.4,311.1 65.7,311.1 67.1,316.4 77.1,316.4 77.9,318.6 85.7,318.6 85.7,321.8 100.8,321.8 100.8,325.1 116.9,325.1 116.9,329.0 243.5,329.0" fill="none" stroke="#9a9ad0" stroke-width="1.1" stroke-linejoin="miter"/>
<line x1="28.4" y1="274.05" x2="28.4" y2="276.95" stroke="#666666" stroke-width="1.1"/>
<line x1="27.0" y1="275.5" x2="29.799999999999997" y2="275.5" stroke="#666666" stroke-width="1.0"/>
<line x1="53.6" y1="305.45" x2="53.6" y2="308.34999999999997" stroke="#666666" stroke-width="1.1"/>
<line x1="52.2" y1="306.9" x2="55.0" y2="306.9" stroke="#666666" stroke-width="1.0"/>
<line x1="58.5" y1="305.45" x2="58.5" y2="308.34999999999997" stroke="#666666" stroke-width="1.1"/>
<line x1="57.1" y1="306.9" x2="59.9" y2="306.9" stroke="#666666" stroke-width="1.0"/>
<line x1="92.8" y1="305.45" x2="92.8" y2="308.34999999999997" stroke="#666666" stroke-width="1.1"/>
<line x1="91.39999999999999" y1="306.9" x2="94.2" y2="306.9" stroke="#666666" stroke-width="1.0"/>
<line x1="107.2" y1="305.45" x2="107.2" y2="308.34999999999997" stroke="#666666" stroke-width="1.1"/>
<line x1="105.8" y1="306.9" x2="108.60000000000001" y2="306.9" stroke="#666666" stroke-width="1.0"/>
<line x1="113.1" y1="305.45" x2="113.1" y2="308.34999999999997" stroke="#666666" stroke-width="1.1"/>
<line x1="111.69999999999999" y1="306.9" x2="114.5" y2="306.9" stroke="#666666" stroke-width="1.0"/>
<line x1="187.9" y1="322.85" x2="187.9" y2="325.75" stroke="#666666" stroke-width="1.1"/>
<line x1="186.5" y1="324.3" x2="189.3" y2="324.3" stroke="#666666" stroke-width="1.0"/>
<line x1="214.3" y1="322.85" x2="214.3" y2="325.75" stroke="#666666" stroke-width="1.1"/>
<line x1="212.9" y1="324.3" x2="215.70000000000002" y2="324.3" stroke="#666666" stroke-width="1.0"/>
<line x1="243.1" y1="322.85" x2="243.1" y2="325.75" stroke="#666666" stroke-width="1.1"/>
<line x1="241.7" y1="324.3" x2="244.5" y2="324.3" stroke="#666666" stroke-width="1.0"/>
<line x1="75.7" y1="314.95" x2="75.7" y2="317.84999999999997" stroke="#505088" stroke-width="1.1"/>
<line x1="74.3" y1="316.4" x2="77.10000000000001" y2="316.4" stroke="#505088" stroke-width="1.0"/>
<line x1="97.4" y1="320.35" x2="97.4" y2="323.25" stroke="#505088" stroke-width="1.1"/>
<line x1="96.0" y1="321.8" x2="98.80000000000001" y2="321.8" stroke="#505088" stroke-width="1.0"/>
<line x1="102.3" y1="323.65000000000003" x2="102.3" y2="326.55" stroke="#505088" stroke-width="1.1"/>
<line x1="100.89999999999999" y1="325.1" x2="103.7" y2="325.1" stroke="#505088" stroke-width="1.0"/>
<line x1="104.6" y1="323.65000000000003" x2="104.6" y2="326.55" stroke="#505088" stroke-width="1.1"/>
<line x1="103.19999999999999" y1="325.1" x2="106.0" y2="325.1" stroke="#505088" stroke-width="1.0"/>
<line x1="108.2" y1="323.65000000000003" x2="108.2" y2="326.55" stroke="#505088" stroke-width="1.1"/>
<line x1="106.8" y1="325.1" x2="109.60000000000001" y2="325.1" stroke="#505088" stroke-width="1.0"/>
<line x1="128.5" y1="327.55" x2="128.5" y2="330.45" stroke="#505088" stroke-width="1.1"/>
<line x1="127.1" y1="329" x2="129.9" y2="329" stroke="#505088" stroke-width="1.0"/>
<line x1="133.8" y1="327.55" x2="133.8" y2="330.45" stroke="#505088" stroke-width="1.1"/>
<line x1="132.4" y1="329" x2="135.20000000000002" y2="329" stroke="#505088" stroke-width="1.0"/>
<line x1="150" y1="327.55" x2="150" y2="330.45" stroke="#505088" stroke-width="1.1"/>
<line x1="148.6" y1="329" x2="151.4" y2="329" stroke="#505088" stroke-width="1.0"/>
<line x1="163.8" y1="327.55" x2="163.8" y2="330.45" stroke="#505088" stroke-width="1.1"/>
<line x1="162.4" y1="329" x2="165.20000000000002" y2="329" stroke="#505088" stroke-width="1.0"/>
<line x1="169.9" y1="327.55" x2="169.9" y2="330.45" stroke="#505088" stroke-width="1.1"/>
<line x1="168.5" y1="329" x2="171.3" y2="329" stroke="#505088" stroke-width="1.0"/>
<line x1="172.4" y1="327.55" x2="172.4" y2="330.45" stroke="#505088" stroke-width="1.1"/>
<line x1="171.0" y1="329" x2="173.8" y2="329" stroke="#505088" stroke-width="1.0"/>
<line x1="197.7" y1="327.55" x2="197.7" y2="330.45" stroke="#505088" stroke-width="1.1"/>
<line x1="196.29999999999998" y1="329" x2="199.1" y2="329" stroke="#505088" stroke-width="1.0"/>
<line x1="200.1" y1="327.55" x2="200.1" y2="330.45" stroke="#505088" stroke-width="1.1"/>
<line x1="198.7" y1="329" x2="201.5" y2="329" stroke="#505088" stroke-width="1.0"/>
<line x1="219.7" y1="327.55" x2="219.7" y2="330.45" stroke="#505088" stroke-width="1.1"/>
<line x1="218.29999999999998" y1="329" x2="221.1" y2="329" stroke="#505088" stroke-width="1.0"/>
<line x1="243.1" y1="327.55" x2="243.1" y2="330.45" stroke="#505088" stroke-width="1.1"/>
<line x1="241.7" y1="329" x2="244.5" y2="329" stroke="#505088" stroke-width="1.0"/>
<line x1="25.8" y1="246.75" x2="25.8" y2="249.64999999999998" stroke="#505088" stroke-width="1.1"/>
<line x1="24.400000000000002" y1="248.2" x2="27.2" y2="248.2" stroke="#505088" stroke-width="1.0"/>
<line x1="27.6" y1="252.75" x2="27.6" y2="255.64999999999998" stroke="#505088" stroke-width="1.1"/>
<line x1="26.200000000000003" y1="254.2" x2="29.0" y2="254.2" stroke="#505088" stroke-width="1.0"/>
<line x1="29.5" y1="259.75" x2="29.5" y2="262.65" stroke="#505088" stroke-width="1.1"/>
<line x1="28.1" y1="261.2" x2="30.9" y2="261.2" stroke="#505088" stroke-width="1.0"/>
<line x1="33.4" y1="259.75" x2="33.4" y2="262.65" stroke="#505088" stroke-width="1.1"/>
<line x1="32.0" y1="261.2" x2="34.8" y2="261.2" stroke="#505088" stroke-width="1.0"/>
<line x1="39.8" y1="269.15000000000003" x2="39.8" y2="272.05" stroke="#505088" stroke-width="1.1"/>
<line x1="38.4" y1="270.6" x2="41.199999999999996" y2="270.6" stroke="#505088" stroke-width="1.0"/>
<line x1="42.4" y1="273.55" x2="42.4" y2="276.45" stroke="#505088" stroke-width="1.1"/>
<line x1="41.0" y1="275.0" x2="43.8" y2="275.0" stroke="#505088" stroke-width="1.0"/>
<line x1="50" y1="283.55" x2="50" y2="286.45" stroke="#505088" stroke-width="1.1"/>
<line x1="48.6" y1="285" x2="51.4" y2="285" stroke="#505088" stroke-width="1.0"/>
<rect x="22.4" y="244.3" width="223.60" height="134.90" fill="none" stroke="#979797" stroke-width="1.4"/>
<rect x="199.2" y="247.8" width="43.90" height="13.40" fill="#fff" stroke="#777" stroke-width="0.9"/>
<line x1="201.1" y1="251.70000000000002" x2="219.79999999999998" y2="251.70000000000002" stroke="#9a9ad0" stroke-width="0.9"/>
<line x1="201.1" y1="257.7" x2="219.79999999999998" y2="257.7" stroke="#d9d9d6" stroke-width="0.9"/>
<text x="241.0" y="253.0" font-size="5.3" font-weight="normal" text-anchor="end" fill="#2a2a2a" textLength="18.8" lengthAdjust="spacingAndGlyphs">Negative</text>
<text x="239.1" y="259.0" font-size="5.3" font-weight="normal" text-anchor="end" fill="#2a2a2a" textLength="16.7" lengthAdjust="spacingAndGlyphs">Positive</text>
<rect x="25.8" y="369.7" width="42.50" height="6.60" fill="#fff" stroke="#5a5a5a" stroke-width="0.9"/>
<text x="27.0" y="374.7" font-size="5.3" font-weight="normal" text-anchor="start" fill="#444" textLength="40.3" lengthAdjust="spacingAndGlyphs">Logrank <tspan font-style="italic">P</tspan> = .9024</text>
<rect x="22.6" y="399.6" width="223.60" height="18.30" fill="none" stroke="#808080" stroke-width="1.2"/>
<text x="74.80" y="404.60" font-size="5.2" text-anchor="start" fill="#3a3a3a" textLength="32.89" lengthAdjust="spacingAndGlyphs">No. of Subjects</text>
<text x="115.20" y="404.60" font-size="5.2" text-anchor="start" fill="#3a3a3a" textLength="12.40" lengthAdjust="spacingAndGlyphs">Event</text>
<text x="135.10" y="404.60" font-size="5.2" text-anchor="start" fill="#3a3a3a" textLength="21.03" lengthAdjust="spacingAndGlyphs">Censored</text>
<text x="158.50" y="404.60" font-size="5.2" text-anchor="start" fill="#3a3a3a" textLength="56.33" lengthAdjust="spacingAndGlyphs">Median Survival (95% CL)</text>
<text x="53.90" y="410.80" font-size="5.2" text-anchor="start" fill="#3a3a3a" textLength="19.14" lengthAdjust="spacingAndGlyphs">Negative</text>
<text x="91.70" y="410.80" font-size="5.2" text-anchor="middle" fill="#3a3a3a" textLength="5.39" lengthAdjust="spacingAndGlyphs">79</text>
<text x="113.20" y="410.80" font-size="5.2" text-anchor="start" fill="#3a3a3a" textLength="19.68" lengthAdjust="spacingAndGlyphs">43% (34)</text>
<text x="135.90" y="410.80" font-size="5.2" text-anchor="start" fill="#3a3a3a" textLength="19.68" lengthAdjust="spacingAndGlyphs">57% (45)</text>
<text x="172.20" y="410.80" font-size="5.2" text-anchor="end" fill="#3a3a3a" textLength="12.14" lengthAdjust="spacingAndGlyphs">18.52</text>
<text x="173.60" y="410.80" font-size="5.2" text-anchor="start" fill="#3a3a3a" textLength="1.61" lengthAdjust="spacingAndGlyphs">(</text>
<text x="188.80" y="410.80" font-size="5.2" text-anchor="end" fill="#3a3a3a" textLength="12.14" lengthAdjust="spacingAndGlyphs">12.50</text>
<text x="193.30" y="410.80" font-size="5.2" text-anchor="start" fill="#3a3a3a" textLength="6.74" lengthAdjust="spacingAndGlyphs">NA</text>
<text x="202.00" y="410.80" font-size="5.2" text-anchor="start" fill="#3a3a3a" textLength="1.61" lengthAdjust="spacingAndGlyphs">)</text>
<text x="53.90" y="416.40" font-size="5.2" text-anchor="start" fill="#3a3a3a" textLength="16.98" lengthAdjust="spacingAndGlyphs">Positive</text>
<text x="91.70" y="416.40" font-size="5.2" text-anchor="middle" fill="#3a3a3a" textLength="5.39" lengthAdjust="spacingAndGlyphs">19</text>
<text x="113.20" y="416.40" font-size="5.2" text-anchor="start" fill="#3a3a3a" textLength="16.98" lengthAdjust="spacingAndGlyphs">47% (9)</text>
<text x="135.90" y="416.40" font-size="5.2" text-anchor="start" fill="#3a3a3a" textLength="19.68" lengthAdjust="spacingAndGlyphs">53% (10)</text>
<text x="172.20" y="416.40" font-size="5.2" text-anchor="end" fill="#3a3a3a" textLength="12.14" lengthAdjust="spacingAndGlyphs">73.09</text>
<text x="173.60" y="416.40" font-size="5.2" text-anchor="start" fill="#3a3a3a" textLength="1.61" lengthAdjust="spacingAndGlyphs">(</text>
<text x="188.80" y="416.40" font-size="5.2" text-anchor="end" fill="#3a3a3a" textLength="9.44" lengthAdjust="spacingAndGlyphs">9.18</text>
<text x="193.30" y="416.40" font-size="5.2" text-anchor="start" fill="#3a3a3a" textLength="6.74" lengthAdjust="spacingAndGlyphs">NA</text>
<text x="202.00" y="416.40" font-size="5.2" text-anchor="start" fill="#3a3a3a" textLength="1.61" lengthAdjust="spacingAndGlyphs">)</text>
<text x="268.7" y="232.0" font-size="17.2" font-weight="bold" text-anchor="start" fill="#000" textLength="12.4" lengthAdjust="spacingAndGlyphs">D</text>
<text x="310.00" y="225.7" font-size="8.3" font-weight="bold" fill="#111" font-style="italic" stroke="#111" stroke-width="0.25" textLength="24.20" lengthAdjust="spacingAndGlyphs">NPM1</text>
<text x="334.50" y="225.7" font-size="8.3" font-weight="bold" fill="#111" stroke="#111" stroke-width="0.25" textLength="2.90" lengthAdjust="spacingAndGlyphs">-</text>
<text x="337.60" y="225.7" font-size="8.3" font-weight="bold" fill="#111" stroke="#111" stroke-width="0.25" textLength="34.90" lengthAdjust="spacingAndGlyphs">mutated</text>
<text x="375.10" y="225.7" font-size="8.3" font-weight="bold" fill="#111" stroke="#111" stroke-width="0.25" textLength="33.90" lengthAdjust="spacingAndGlyphs">AML-NK</text>
<text x="412.00" y="225.7" font-size="8.3" font-weight="bold" fill="#111" stroke="#111" stroke-width="0.25" textLength="16.30" lengthAdjust="spacingAndGlyphs">(EFS</text>
<text x="430.90" y="225.7" font-size="8.3" font-weight="bold" fill="#111" stroke="#111" stroke-width="0.25" textLength="9.90" lengthAdjust="spacingAndGlyphs">by</text>
<text x="443.20" y="225.7" font-size="8.3" font-weight="bold" fill="#111" stroke="#111" stroke-width="0.25" textLength="21.30" lengthAdjust="spacingAndGlyphs">MLD)</text>
<text x="331.1" y="240.5" font-size="6.9" font-weight="bold" text-anchor="start" fill="#222" textLength="127.9" lengthAdjust="spacingAndGlyphs">Product-Limit Survival Function Estimates</text>
<text x="0" y="0" font-size="5.8" font-weight="bold" fill="#1a1a1a" text-anchor="middle" textLength="54" lengthAdjust="spacingAndGlyphs" transform="translate(280.3,311.0) rotate(-90)">Survival Probability</text>
<line x1="293.0" y1="375.8" x2="295.6" y2="375.8" stroke="#777" stroke-width="0.8"/>
<text x="292.70000000000005" y="377.5" font-size="5.1" font-weight="normal" text-anchor="end" fill="#5a5a5a">0</text>
<line x1="293.0" y1="350.16" x2="295.6" y2="350.16" stroke="#777" stroke-width="0.8"/>
<text x="292.70000000000005" y="351.86" font-size="5.1" font-weight="normal" text-anchor="end" fill="#5a5a5a">0.2</text>
<line x1="293.0" y1="324.52" x2="295.6" y2="324.52" stroke="#777" stroke-width="0.8"/>
<text x="292.70000000000005" y="326.21999999999997" font-size="5.1" font-weight="normal" text-anchor="end" fill="#5a5a5a">0.4</text>
<line x1="293.0" y1="298.88" x2="295.6" y2="298.88" stroke="#777" stroke-width="0.8"/>
<text x="292.70000000000005" y="300.58" font-size="5.1" font-weight="normal" text-anchor="end" fill="#5a5a5a">0.6</text>
<line x1="293.0" y1="273.24" x2="295.6" y2="273.24" stroke="#777" stroke-width="0.8"/>
<text x="292.70000000000005" y="274.94" font-size="5.1" font-weight="normal" text-anchor="end" fill="#5a5a5a">0.8</text>
<line x1="293.0" y1="247.6" x2="295.6" y2="247.6" stroke="#777" stroke-width="0.8"/>
<text x="292.70000000000005" y="249.29999999999998" font-size="5.1" font-weight="normal" text-anchor="end" fill="#5a5a5a">1</text>
<line x1="298.0" y1="379.2" x2="298.0" y2="381.59999999999997" stroke="#777" stroke-width="0.8"/>
<text x="298.0" y="388.09999999999997" font-size="5.1" font-weight="normal" text-anchor="middle" fill="#5a5a5a">0</text>
<line x1="341.4" y1="379.2" x2="341.4" y2="381.59999999999997" stroke="#777" stroke-width="0.8"/>
<text x="341.4" y="388.09999999999997" font-size="5.1" font-weight="normal" text-anchor="middle" fill="#5a5a5a">20</text>
<line x1="384.8" y1="379.2" x2="384.8" y2="381.59999999999997" stroke="#777" stroke-width="0.8"/>
<text x="384.8" y="388.09999999999997" font-size="5.1" font-weight="normal" text-anchor="middle" fill="#5a5a5a">40</text>
<line x1="428.2" y1="379.2" x2="428.2" y2="381.59999999999997" stroke="#777" stroke-width="0.8"/>
<text x="428.2" y="388.09999999999997" font-size="5.1" font-weight="normal" text-anchor="middle" fill="#5a5a5a">60</text>
<line x1="471.6" y1="379.2" x2="471.6" y2="381.59999999999997" stroke="#777" stroke-width="0.8"/>
<text x="471.6" y="388.09999999999997" font-size="5.1" font-weight="normal" text-anchor="middle" fill="#5a5a5a">80</text>
<line x1="515.0" y1="379.2" x2="515.0" y2="381.59999999999997" stroke="#777" stroke-width="0.8"/>
<text x="515.0" y="388.09999999999997" font-size="5.1" font-weight="normal" text-anchor="middle" fill="#5a5a5a">100</text>
<text x="387.7" y="396.2" font-size="6.2" font-weight="bold" text-anchor="start" fill="#222" textLength="37.7" lengthAdjust="spacingAndGlyphs">time (months)</text>
<polyline points="298.0,247.6 300.4,247.6 300.4,274.5 301.2,274.5 301.2,283.7 317.6,283.7 317.6,290.1 324.5,290.1 324.5,307.1 456.6,307.1 456.6,324.3 515.0,324.3 515.0,324.3" fill="none" stroke="#d9d9d6" stroke-width="0.8" stroke-linejoin="miter"/>
<polyline points="298.0,247.6 300.0,253.0 301.1,268.7 301.9,273.7 303.3,273.7 304.7,278.0 306.9,281.6 308.3,286.6 311.1,287.3 312.6,293.0 319.3,293.1 321.1,295.1 322.1,297.9 323.3,299.4 326.4,307.1 329.3,315.0 333.6,315.0 334.3,317.6 337.9,317.6 339.3,322.4 349.3,322.4 350.0,324.7 357.9,324.7 358.6,327.6 371.2,327.6 371.2,330.0 389.3,330.0 389.3,333.8 515.0,333.8" fill="none" stroke="#9a9ad0" stroke-width="1.1" stroke-linejoin="miter"/>
<line x1="300.9" y1="274.45" x2="300.9" y2="277.34999999999997" stroke="#666666" stroke-width="1.1"/>
<line x1="299.5" y1="275.9" x2="302.29999999999995" y2="275.9" stroke="#666666" stroke-width="1.0"/>
<line x1="326.9" y1="305.65000000000003" x2="326.9" y2="308.55" stroke="#666666" stroke-width="1.1"/>
<line x1="325.5" y1="307.1" x2="328.29999999999995" y2="307.1" stroke="#666666" stroke-width="1.0"/>
<line x1="331.5" y1="305.65000000000003" x2="331.5" y2="308.55" stroke="#666666" stroke-width="1.1"/>
<line x1="330.1" y1="307.1" x2="332.9" y2="307.1" stroke="#666666" stroke-width="1.0"/>
<line x1="364.9" y1="305.65000000000003" x2="364.9" y2="308.55" stroke="#666666" stroke-width="1.1"/>
<line x1="363.5" y1="307.1" x2="366.29999999999995" y2="307.1" stroke="#666666" stroke-width="1.0"/>
<line x1="379.2" y1="305.65000000000003" x2="379.2" y2="308.55" stroke="#666666" stroke-width="1.1"/>
<line x1="377.8" y1="307.1" x2="380.59999999999997" y2="307.1" stroke="#666666" stroke-width="1.0"/>
<line x1="385.8" y1="305.65000000000003" x2="385.8" y2="308.55" stroke="#666666" stroke-width="1.1"/>
<line x1="384.40000000000003" y1="307.1" x2="387.2" y2="307.1" stroke="#666666" stroke-width="1.0"/>
<line x1="460" y1="322.85" x2="460" y2="325.75" stroke="#666666" stroke-width="1.1"/>
<line x1="458.6" y1="324.3" x2="461.4" y2="324.3" stroke="#666666" stroke-width="1.0"/>
<line x1="486.9" y1="322.85" x2="486.9" y2="325.75" stroke="#666666" stroke-width="1.1"/>
<line x1="485.5" y1="324.3" x2="488.29999999999995" y2="324.3" stroke="#666666" stroke-width="1.0"/>
<line x1="515.1" y1="322.85" x2="515.1" y2="325.75" stroke="#666666" stroke-width="1.1"/>
<line x1="513.7" y1="324.3" x2="516.5" y2="324.3" stroke="#666666" stroke-width="1.0"/>
<line x1="375" y1="328.55" x2="375" y2="331.45" stroke="#505088" stroke-width="1.1"/>
<line x1="373.6" y1="330" x2="376.4" y2="330" stroke="#505088" stroke-width="1.0"/>
<line x1="377.6" y1="328.55" x2="377.6" y2="331.45" stroke="#505088" stroke-width="1.1"/>
<line x1="376.20000000000005" y1="330" x2="379.0" y2="330" stroke="#505088" stroke-width="1.0"/>
<line x1="380.4" y1="328.55" x2="380.4" y2="331.45" stroke="#505088" stroke-width="1.1"/>
<line x1="379.0" y1="330" x2="381.79999999999995" y2="330" stroke="#505088" stroke-width="1.0"/>
<line x1="400.7" y1="332.35" x2="400.7" y2="335.25" stroke="#505088" stroke-width="1.1"/>
<line x1="399.3" y1="333.8" x2="402.09999999999997" y2="333.8" stroke="#505088" stroke-width="1.0"/>
<line x1="406.2" y1="332.35" x2="406.2" y2="335.25" stroke="#505088" stroke-width="1.1"/>
<line x1="404.8" y1="333.8" x2="407.59999999999997" y2="333.8" stroke="#505088" stroke-width="1.0"/>
<line x1="422.2" y1="332.35" x2="422.2" y2="335.25" stroke="#505088" stroke-width="1.1"/>
<line x1="420.8" y1="333.8" x2="423.59999999999997" y2="333.8" stroke="#505088" stroke-width="1.0"/>
<line x1="436.5" y1="332.35" x2="436.5" y2="335.25" stroke="#505088" stroke-width="1.1"/>
<line x1="435.1" y1="333.8" x2="437.9" y2="333.8" stroke="#505088" stroke-width="1.0"/>
<line x1="442.3" y1="332.35" x2="442.3" y2="335.25" stroke="#505088" stroke-width="1.1"/>
<line x1="440.90000000000003" y1="333.8" x2="443.7" y2="333.8" stroke="#505088" stroke-width="1.0"/>
<line x1="444.6" y1="332.35" x2="444.6" y2="335.25" stroke="#505088" stroke-width="1.1"/>
<line x1="443.20000000000005" y1="333.8" x2="446.0" y2="333.8" stroke="#505088" stroke-width="1.0"/>
<line x1="470.8" y1="332.35" x2="470.8" y2="335.25" stroke="#505088" stroke-width="1.1"/>
<line x1="469.40000000000003" y1="333.8" x2="472.2" y2="333.8" stroke="#505088" stroke-width="1.0"/>
<line x1="472.3" y1="332.35" x2="472.3" y2="335.25" stroke="#505088" stroke-width="1.1"/>
<line x1="470.90000000000003" y1="333.8" x2="473.7" y2="333.8" stroke="#505088" stroke-width="1.0"/>
<line x1="474.6" y1="332.35" x2="474.6" y2="335.25" stroke="#505088" stroke-width="1.1"/>
<line x1="473.20000000000005" y1="333.8" x2="476.0" y2="333.8" stroke="#505088" stroke-width="1.0"/>
<line x1="492.3" y1="332.35" x2="492.3" y2="335.25" stroke="#505088" stroke-width="1.1"/>
<line x1="490.90000000000003" y1="333.8" x2="493.7" y2="333.8" stroke="#505088" stroke-width="1.0"/>
<line x1="515.4" y1="332.35" x2="515.4" y2="335.25" stroke="#505088" stroke-width="1.1"/>
<line x1="514.0" y1="333.8" x2="516.8" y2="333.8" stroke="#505088" stroke-width="1.0"/>
<line x1="298.0" y1="246.75" x2="298.0" y2="249.64999999999998" stroke="#505088" stroke-width="1.1"/>
<line x1="296.6" y1="248.2" x2="299.4" y2="248.2" stroke="#505088" stroke-width="1.0"/>
<line x1="300.0" y1="252.25" x2="300.0" y2="255.14999999999998" stroke="#505088" stroke-width="1.1"/>
<line x1="298.6" y1="253.7" x2="301.4" y2="253.7" stroke="#505088" stroke-width="1.0"/>
<line x1="302.0" y1="272.05" x2="302.0" y2="274.95" stroke="#505088" stroke-width="1.1"/>
<line x1="300.6" y1="273.5" x2="303.4" y2="273.5" stroke="#505088" stroke-width="1.0"/>
<line x1="311.1" y1="285.85" x2="311.1" y2="288.75" stroke="#505088" stroke-width="1.1"/>
<line x1="309.70000000000005" y1="287.3" x2="312.5" y2="287.3" stroke="#505088" stroke-width="1.0"/>
<line x1="322.1" y1="296.45" x2="322.1" y2="299.34999999999997" stroke="#505088" stroke-width="1.1"/>
<line x1="320.70000000000005" y1="297.9" x2="323.5" y2="297.9" stroke="#505088" stroke-width="1.0"/>
<line x1="333.6" y1="313.55" x2="333.6" y2="316.45" stroke="#505088" stroke-width="1.1"/>
<line x1="332.20000000000005" y1="315" x2="335.0" y2="315" stroke="#505088" stroke-width="1.0"/>
<line x1="349.3" y1="320.95" x2="349.3" y2="323.84999999999997" stroke="#505088" stroke-width="1.1"/>
<line x1="347.90000000000003" y1="322.4" x2="350.7" y2="322.4" stroke="#505088" stroke-width="1.0"/>
<line x1="369" y1="326.15000000000003" x2="369" y2="329.05" stroke="#505088" stroke-width="1.1"/>
<line x1="367.6" y1="327.6" x2="370.4" y2="327.6" stroke="#505088" stroke-width="1.0"/>
<rect x="295.6" y="244.6" width="222.90" height="134.60" fill="none" stroke="#979797" stroke-width="1.4"/>
<rect x="471.5" y="247.7" width="43.90" height="13.20" fill="#fff" stroke="#777" stroke-width="0.9"/>
<line x1="473.4" y1="251.6" x2="492.1" y2="251.6" stroke="#9a9ad0" stroke-width="0.9"/>
<line x1="473.4" y1="257.59999999999997" x2="492.1" y2="257.59999999999997" stroke="#d9d9d6" stroke-width="0.9"/>
<text x="513.3" y="252.89999999999998" font-size="5.3" font-weight="normal" text-anchor="end" fill="#2a2a2a" textLength="18.8" lengthAdjust="spacingAndGlyphs">Negative</text>
<text x="511.4" y="258.9" font-size="5.3" font-weight="normal" text-anchor="end" fill="#2a2a2a" textLength="16.7" lengthAdjust="spacingAndGlyphs">Positive</text>
<rect x="298.3" y="369.7" width="43.40" height="6.60" fill="#fff" stroke="#5a5a5a" stroke-width="0.9"/>
<text x="299.5" y="374.7" font-size="5.3" font-weight="normal" text-anchor="start" fill="#444" textLength="41.199999999999974" lengthAdjust="spacingAndGlyphs">Logrank <tspan font-style="italic">P</tspan> = .5400</text>
<rect x="295.3" y="399.6" width="223.20" height="18.30" fill="none" stroke="#808080" stroke-width="1.2"/>
<text x="347.40" y="404.70" font-size="5.2" text-anchor="start" fill="#3a3a3a" textLength="32.89" lengthAdjust="spacingAndGlyphs">No. of Subjects</text>
<text x="387.80" y="404.70" font-size="5.2" text-anchor="start" fill="#3a3a3a" textLength="12.40" lengthAdjust="spacingAndGlyphs">Event</text>
<text x="407.70" y="404.70" font-size="5.2" text-anchor="start" fill="#3a3a3a" textLength="21.03" lengthAdjust="spacingAndGlyphs">Censored</text>
<text x="431.10" y="404.70" font-size="5.2" text-anchor="start" fill="#3a3a3a" textLength="56.33" lengthAdjust="spacingAndGlyphs">Median Survival (95% CL)</text>
<text x="326.50" y="410.90" font-size="5.2" text-anchor="start" fill="#3a3a3a" textLength="19.14" lengthAdjust="spacingAndGlyphs">Negative</text>
<text x="364.30" y="410.90" font-size="5.2" text-anchor="middle" fill="#3a3a3a" textLength="5.39" lengthAdjust="spacingAndGlyphs">79</text>
<text x="385.80" y="410.90" font-size="5.2" text-anchor="start" fill="#3a3a3a" textLength="19.68" lengthAdjust="spacingAndGlyphs">49% (39)</text>
<text x="408.50" y="410.90" font-size="5.2" text-anchor="start" fill="#3a3a3a" textLength="19.68" lengthAdjust="spacingAndGlyphs">51% (40)</text>
<text x="444.80" y="410.90" font-size="5.2" text-anchor="end" fill="#3a3a3a" textLength="12.14" lengthAdjust="spacingAndGlyphs">13.88</text>
<text x="446.20" y="410.90" font-size="5.2" text-anchor="start" fill="#3a3a3a" textLength="1.61" lengthAdjust="spacingAndGlyphs">(</text>
<text x="461.40" y="410.90" font-size="5.2" text-anchor="end" fill="#3a3a3a" textLength="12.14" lengthAdjust="spacingAndGlyphs">10.53</text>
<text x="480.00" y="410.90" font-size="5.2" text-anchor="end" fill="#3a3a3a" textLength="13.75" lengthAdjust="spacingAndGlyphs">35.00)</text>
<text x="326.50" y="416.50" font-size="5.2" text-anchor="start" fill="#3a3a3a" textLength="16.98" lengthAdjust="spacingAndGlyphs">Positive</text>
<text x="364.30" y="416.50" font-size="5.2" text-anchor="middle" fill="#3a3a3a" textLength="5.39" lengthAdjust="spacingAndGlyphs">19</text>
<text x="385.80" y="416.50" font-size="5.2" text-anchor="start" fill="#3a3a3a" textLength="16.98" lengthAdjust="spacingAndGlyphs">47% (9)</text>
<text x="408.50" y="416.50" font-size="5.2" text-anchor="start" fill="#3a3a3a" textLength="19.68" lengthAdjust="spacingAndGlyphs">53% (10)</text>
<text x="444.80" y="416.50" font-size="5.2" text-anchor="end" fill="#3a3a3a" textLength="12.14" lengthAdjust="spacingAndGlyphs">73.09</text>
<text x="446.20" y="416.50" font-size="5.2" text-anchor="start" fill="#3a3a3a" textLength="1.61" lengthAdjust="spacingAndGlyphs">(</text>
<text x="461.40" y="416.50" font-size="5.2" text-anchor="end" fill="#3a3a3a" textLength="9.44" lengthAdjust="spacingAndGlyphs">9.18</text>
<text x="465.90" y="416.50" font-size="5.2" text-anchor="start" fill="#3a3a3a" textLength="6.74" lengthAdjust="spacingAndGlyphs">NA</text>
<text x="474.60" y="416.50" font-size="5.2" text-anchor="start" fill="#3a3a3a" textLength="1.61" lengthAdjust="spacingAndGlyphs">)</text>
</svg>
</body></html>
